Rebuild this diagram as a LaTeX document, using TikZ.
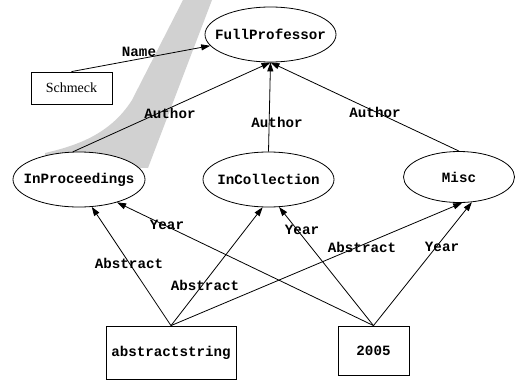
\documentclass[tikz,border=0pt]{standalone}
\usepackage{fontspec}
\setmainfont{Liberation Serif}
\setmonofont{Liberation Mono}
\usetikzlibrary{arrows.meta,shapes.geometric}

\newcommand{\cname}[1]{\makebox[0pt]{#1}}

\tikzset{
  tt/.style={font={\fontsize{14.2}{16}\selectfont\ttfamily\bfseries}},
  cls/.style={ellipse, draw, fill=white, line width=0.8pt, inner sep=0pt,
    minimum width=131pt, minimum height=55pt, tt},
  val/.style={rectangle, draw, line width=0.8pt, inner sep=0pt, tt},
  lbl/.style={inner sep=0pt, tt},
  rel/.style={-{Triangle[length=9pt,width=6pt]}, line width=0.8pt}
}

\begin{document}
\begin{tikzpicture}[x=1pt,y=-1pt]
\useasboundingbox (0,0) rectangle (516,380);
% watermark
\fill[black!18] (183,0) -- (212,0) -- (148,168) -- (45,165) -- (45,153)
  .. controls (75,146) and (110,135) .. (132,100) -- cycle;

% classes
\node[cls] (fp) at (270.5,34.5) {\cname{FullProfessor}};
\node[cls, minimum width=132pt] (ip) at (79,179.5) {\cname{InProceedings}};
\node[cls] (ic) at (268.5,179.5) {\cname{InCollection}};
\node[cls, minimum width=111pt, minimum height=51pt] (misc) at (459,177) {\cname{Misc}};

% values
\node[draw, line width=0.8pt, inner sep=0pt, minimum width=81pt, minimum height=32pt,
  font={\fontsize{14}{16}\selectfont}] (sch) at (71.5,88) {Schmeck};
\node[val, minimum width=130pt, minimum height=53pt] (abs) at (171,352.5) {abstractstring};
\node[val, minimum width=71pt, minimum height=49pt] (yr) at (373.5,350.5) {2005};

% relations
\draw[rel] (sch.north) -- (fp);
\draw[rel] (ip.102) -- (fp.south);
\draw[rel] (ic.north) -- (fp.south);
\draw[rel] (misc.north) -- (fp.south);
\draw[rel] (abs.north) -- (ip.295);
\draw[rel] (abs.north) -- (ic.258);
\draw[rel] (abs.north) -- (misc.277);
\draw[rel] (yr.north) -- (ip.329);
\draw[rel] (yr.north) -- (ic.291);
\draw[rel] (yr.north) -- (misc.297);

% labels
\node[lbl] (lname) at (139,52) {Name};
\node[lbl] (lauth1) at (170,113) {Author};
\node[lbl] (lauth2) at (277,122) {Author};
\node[lbl] (lauth3) at (375,112) {Author};
\node[lbl] (lyear1) at (167,225) {Year};
\node[lbl] (lyear2) at (302,230) {Year};
\node[lbl] (lyear3) at (442,247) {Year};
\node[lbl] (labs1) at (129,263) {Abstract};
\node[lbl] (labs2) at (205,285) {Abstract};
\node[lbl] (labs3) at (362,247) {Abstract};
\end{tikzpicture}
\end{document}
